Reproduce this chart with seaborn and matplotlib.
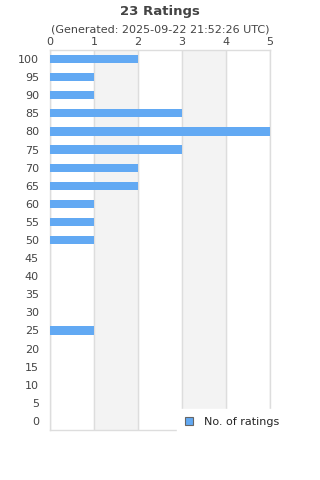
import matplotlib
matplotlib.use('Agg')
import matplotlib.pyplot as plt
import seaborn as sns
import pandas as pd
from matplotlib.patches import Patch

# --- data ---
ratings = ['100', '95', '90', '85', '80', '75', '70', '65', '60', '55', '50',
           '45', '40', '35', '30', '25', '20', '15', '10', '5', '0']
counts = [2, 1, 1, 3, 5, 3, 2, 2, 1, 1, 1, 0, 0, 0, 0, 1, 0, 0, 0, 0, 0]
x_ticks = [0, 1, 2, 3, 4, 5]

df = pd.DataFrame({'rating': ratings, 'count': counts})

sns.set_style('white')
plt.rcParams['font.family'] = ['DejaVu Sans']

fig = plt.figure(figsize=(3.2, 4.8), dpi=100)
ax = fig.add_axes([50 / 320, 1 - 430 / 480, 220 / 320, 380 / 480])

# alternating bands
for lo in [1, 3]:
    ax.axvspan(lo, lo + 1, color='#f3f3f3', zorder=0)

sns.barplot(data=df, x='count', y='rating', order=ratings, orient='h',
            color='#62a9f3', saturation=1, width=0.45, linewidth=0,
            ax=ax, zorder=3)

ax.set_xlim(0, 5)
ax.set_ylim(20.5, -0.5)
ax.set_xticks(x_ticks)
ax.xaxis.tick_top()
ax.grid(axis='x', color='#dddddd', linewidth=1, zorder=1)
ax.set_axisbelow(True)
ax.tick_params(axis='both', length=0, labelsize=8, colors='#444444', pad=2)
ax.tick_params(axis='y', pad=8)
ax.set_xlabel('')
ax.set_ylabel('')
for s in ax.spines.values():
    s.set_color('#dddddd')
    s.set_linewidth(1)

fig.text(0.5, 1 - 11 / 480, '23 Ratings', ha='center', va='center',
         fontsize=9.5, fontweight='bold', color='#444444')
fig.text(0.5, 1 - 30 / 480, '(Generated: 2025-09-22 21:52:26 UTC)', ha='center',
         va='center', fontsize=8, color='#444444')

handle = Patch(facecolor='#62a9f3', edgecolor='#666666', linewidth=0.8)
leg = fig.legend([handle], ['No. of ratings'], loc='center left',
                 bbox_to_anchor=(177 / 320, 1 - 422 / 480), frameon=True,
                 fontsize=8, handlelength=0.75, handleheight=0.75,
                 borderpad=0.7, borderaxespad=0, handletextpad=1.0,
                 fancybox=False)
leg.get_frame().set_edgecolor('white')
leg.get_frame().set_facecolor('white')
leg.get_frame().set_alpha(1)
leg.set_zorder(10)

fig.savefig('out.png', dpi=100)
